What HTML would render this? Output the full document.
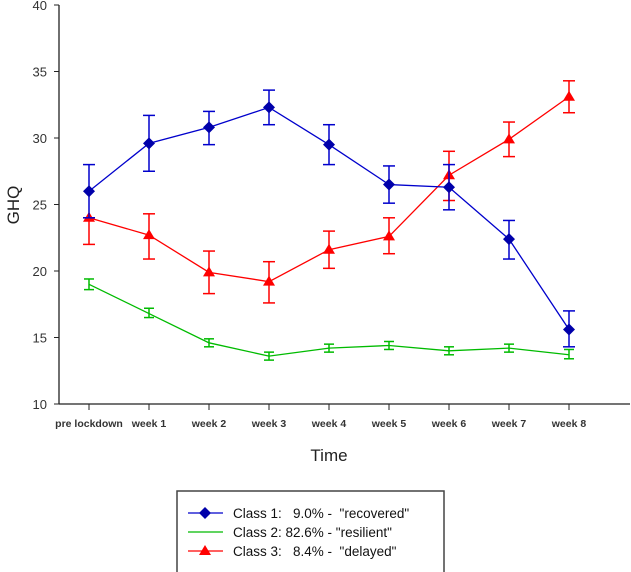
<!DOCTYPE html>
<html><head><meta charset="utf-8"><style>
body{margin:0;background:#fff;font-family:"Liberation Sans",Arial,sans-serif}
svg{display:block}
</style></head><body>
<svg id="chart" width="631" height="572" viewBox="0 0 631 572">
<g id="axes"></g>
<g id="series"></g>
<text x="329" y="461" font-size="17" text-anchor="middle" fill="#222">Time</text>
<text x="0" y="0" font-size="17" text-anchor="middle" fill="#222" transform="translate(19,205) rotate(-90)">GHQ</text>
<g>
<rect x="177" y="491" width="267" height="82" fill="#fff" stroke="#444" stroke-width="1.5"/>
<g>
<line x1="188" y1="513" x2="223" y2="513" stroke="#0000cc" stroke-width="1.2"/>
<polygon points="205,507 211,513 205,519 199,513" fill="#0000aa"/>
<text x="233" y="518" font-size="13.5" fill="#111" xml:space="preserve">Class 1:   9.0% -  "recovered"</text></g>
<g>
<line x1="188" y1="532" x2="223" y2="532" stroke="#00bb00" stroke-width="1.2"/>
<text x="233" y="537" font-size="13.5" fill="#111">Class 2: 82.6% -  "resilient"</text></g>
<g>
<line x1="188" y1="551" x2="223" y2="551" stroke="#ff0000" stroke-width="1.2"/>
<polygon points="205,545 211,555 199,555" fill="#ff0000"/>
<text x="233" y="556" font-size="13.5" fill="#111" xml:space="preserve">Class 3:   8.4% -  "delayed"</text></g>
</g>
</svg>
<script>
const categories=["pre lockdown","week  1","week  2","week  3","week  4","week  5","week  6","week  7","week  8"];
const yTicks=[10,15,20,25,30,35,40];
const c1=[26,29.6,30.8,32.3,29.5,26.5,26.3,22.4,15.6];
const c1lo=[24,27.5,29.5,31,28,25.1,24.6,20.9,14.3];
const c1hi=[28,31.7,32,33.6,31,27.9,28,23.8,17];
const c2=[19,16.8,14.6,13.6,14.2,14.4,14.0,14.2,13.7];
const c2lo=[18.6,16.5,14.3,13.3,13.9,14.1,13.7,13.9,13.4];
const c2hi=[19.4,17.2,14.9,13.9,14.5,14.7,14.3,14.5,14.1];
const c3=[24,22.7,19.9,19.2,21.6,22.6,27.2,29.9,33.1];
const c3lo=[22,20.9,18.3,17.6,20.2,21.3,25.3,28.6,31.9];
const c3hi=[24,24.3,21.5,20.7,23,24,29,31.2,34.3];
const NS="http://www.w3.org/2000/svg";
const xs=i=>89+60*i;
const ys=v=>404-(v-10)*13.3;
function mk(t,a,p){const e=document.createElementNS(NS,t);for(const k in a)e.setAttribute(k,a[k]);p.appendChild(e);return e;}
const ax=document.getElementById('axes');
const yl=mk('line',{x1:59,y1:5,x2:59,y2:404,stroke:'#222','stroke-width':1.3},ax);


const xl=mk('line',{x1:59,y1:404,x2:630,y2:404,stroke:'#222','stroke-width':1.3},ax);


yTicks.forEach(v=>{
  mk('line',{x1:54,y1:ys(v),x2:59,y2:ys(v),stroke:'#222'},ax);
  const t=mk('text',{x:47,y:ys(v)+5,'font-size':13,'text-anchor':'end',fill:'#333'},ax);
  t.textContent=v;
  
  
});
categories.forEach((c,i)=>{
  mk('line',{x1:xs(i),y1:404,x2:xs(i),y2:410,stroke:'#222'},ax);
  const t=mk('text',{x:xs(i),y:427,'font-size':10.5,'font-weight':'bold','text-anchor':'middle',fill:'#333','xml:space':'preserve'},ax);
  t.textContent=c;
  
  
});
const sg=document.getElementById('series');
function series(name,vals,lo,hi,col,marker,cap){
  const g=mk('g',{},sg);
  
  
  mk('polyline',{points:vals.map((v,i)=>xs(i)+','+ys(v)).join(' '),fill:'none',stroke:col,'stroke-width':1.3},g);
  vals.forEach((v,i)=>{
    const x=xs(i);
    mk('line',{x1:x,y1:ys(lo[i]),x2:x,y2:ys(hi[i]),stroke:col,'stroke-width':1.5},g);
    mk('line',{x1:x-cap,y1:ys(lo[i]),x2:x+cap,y2:ys(lo[i]),stroke:col,'stroke-width':1.5},g);
    mk('line',{x1:x-cap,y1:ys(hi[i]),x2:x+cap,y2:ys(hi[i]),stroke:col,'stroke-width':1.5},g);
    const y=ys(v);let m;
    if(marker==='d')m=mk('polygon',{points:`${x},${y-6} ${x+6},${y} ${x},${y+6} ${x-6},${y}`,fill:'#0000aa'},g);
    else if(marker==='t')m=mk('polygon',{points:`${x},${y-6} ${x+6},${y+4} ${x-6},${y+4}`,fill:'#ff0000'},g);
    if(m){}
  });
}
series('class2-resilient',c2,c2lo,c2hi,'#00bb00',null,5);
series('class3-delayed',c3,c3lo,c3hi,'#ff0000','t',6);
series('class1-recovered',c1,c1lo,c1hi,'#0000cc','d',6);
</script>
</body></html>
